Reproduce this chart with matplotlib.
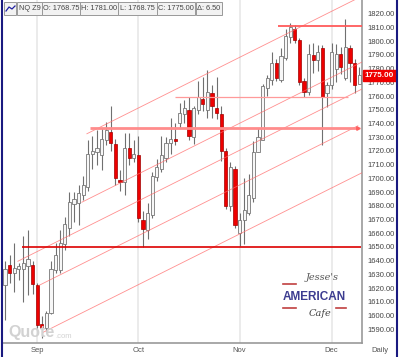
import matplotlib
matplotlib.use('Agg')
import matplotlib.pyplot as plt
from matplotlib.lines import Line2D

plt.rcParams['font.family'] = ['Liberation Sans', 'DejaVu Sans']

# NQ Z9 daily candles, late Aug -> early Dec 2009
opens = [1622, 1637, 1631, 1634, 1634, 1636, 1637, 1622, 1594, 1591,
         1602, 1633, 1633, 1652, 1664, 1681, 1682, 1688, 1694, 1718,
         1719, 1717, 1728, 1734, 1725, 1699, 1697, 1722, 1715, 1717,
         1670, 1662, 1673, 1701, 1707, 1715, 1726, 1729, 1740, 1747,
         1750, 1730, 1750, 1758, 1750, 1762, 1751, 1747, 1720, 1680,
         1707, 1660, 1670, 1675, 1686, 1719, 1728, 1766, 1772, 1784,
         1772, 1788, 1803, 1809, 1801, 1771, 1763, 1790, 1786, 1795,
         1762, 1768, 1780, 1791, 1773, 1795, 1784, 1768.75]
highs = [1640, 1644, 1653, 1638, 1658, 1662, 1640, 1624, 1600, 1603,
         1640, 1653, 1662, 1672, 1690, 1690, 1695, 1702, 1728, 1731,
         1735, 1737, 1741, 1753, 1729, 1706, 1733, 1733, 1728, 1731,
         1676, 1682, 1705, 1714, 1731, 1730, 1744, 1740, 1755, 1757,
         1759, 1753, 1771, 1774, 1779, 1768, 1774, 1753, 1722, 1712,
         1709, 1675, 1700, 1703, 1727, 1737, 1769, 1775, 1792, 1787,
         1795, 1809, 1813, 1812, 1802, 1773, 1798, 1799, 1797, 1797,
         1770, 1799, 1798, 1796, 1816, 1797, 1787, 1781]
lows = [1597, 1624, 1617, 1626, 1610, 1615, 1616, 1591, 1584, 1588,
        1601, 1631, 1631, 1648, 1658, 1668, 1666, 1684, 1691, 1707,
        1710, 1706, 1724, 1720, 1695, 1691, 1688, 1710, 1712, 1668,
        1650, 1656, 1671, 1698, 1705, 1712, 1718, 1724, 1737, 1740,
        1728, 1725, 1747, 1749, 1744, 1744, 1743, 1713, 1678, 1676,
        1664, 1651, 1652, 1673, 1683, 1719, 1728, 1760, 1768, 1771,
        1770, 1786, 1799, 1799, 1768, 1759, 1761, 1777, 1778, 1724,
        1752, 1765, 1770, 1776, 1772, 1770, 1762, 1768.75]
closes = [1634, 1631, 1635, 1636, 1638, 1641, 1623, 1593, 1591, 1602,
          1634, 1644, 1653, 1667, 1683, 1685, 1689, 1695, 1718, 1720,
          1722, 1729, 1735, 1726, 1700, 1697, 1722, 1715, 1718, 1671,
          1663, 1675, 1702, 1708, 1717, 1726, 1729, 1727, 1748, 1751,
          1731, 1751, 1759, 1754, 1763, 1753, 1748, 1720, 1680, 1708,
          1666, 1670, 1677, 1688, 1719, 1730, 1767, 1773, 1784, 1773,
          1789, 1804, 1810, 1801, 1770, 1763, 1791, 1786, 1792, 1759,
          1768, 1792, 1791, 1781, 1796, 1784, 1768, 1775]

month_bars = [7, 29, 51, 71]
month_labels = ['Sep', 'Oct', 'Nov', 'Dec']
price_ticks = list(range(1590, 1830, 10))

# parallel trend channel: start bar, start price (common slope per bar)
chan_start_bar = [17.8, 16.7, 2.8, 7.4, 8.3]
chan_start_price = [1732.5, 1682.6, 1639.6, 1622.0, 1587.8]
chan_end_bar = [77.6, 77.6, 77.6, 76.7, 77.6]
chan_slope = 1.678

# horizontal levels
level_price = [1650, 1736.5, 1759, 1811]
level_start = [3.7, 18.5, 36.9, 59.4]
level_end = [77.4, 76.7, 74.6, 77.6]
level_color = ['#dd0000', '#ff8c8c', '#ff9a9a', '#ff5a5a']
level_width = [1.2, 2.0, 0.9, 1.3]

header = ['NQ Z9', 'O: 1768.75', 'H: 1781.00', 'L: 1768.75', 'C: 1775.00', '\u0394: 6.50']
header_x = [17, 42, 80, 118, 157, 196]
header_w = [25, 38, 38, 39, 38, 26]

W, H = 400, 357
fig = plt.figure(figsize=(W / 100, H / 100), dpi=100)
ax = fig.add_axes([3 / W, 1 - 343 / H, 359 / W, 343 / H])

# month grid
for b in month_bars:
    ax.axvline(b, color='#ebebeb', lw=1.4, zorder=0)

# candles
for i in range(len(opens)):
    o, h, l, c = opens[i], highs[i], lows[i], closes[i]
    ax.vlines(i, l, h, color='#707070', lw=0.8, zorder=2)
    bottom = min(o, c)
    height = max(abs(c - o), 0.6)
    if c >= o:
        ax.bar(i, height, bottom=bottom, width=0.72, color='#f7f7f7',
               edgecolor='#777777', linewidth=0.6, zorder=3)
    else:
        ax.bar(i, height, bottom=bottom, width=0.72, color='#ee0000',
               edgecolor='#a00000', linewidth=0.5, zorder=3)

# channel lines
for sb, sp, eb in zip(chan_start_bar, chan_start_price, chan_end_bar):
    ax.plot([sb, eb], [sp, sp + chan_slope * (eb - sb)], color='#ff6a6a',
            lw=0.6, alpha=0.75, zorder=4)

# horizontal levels
for p, s, e, col, lw in zip(level_price, level_start, level_end, level_color, level_width):
    ax.plot([s, e], [p, p], color=col, lw=lw, zorder=4, solid_capstyle='butt')
ax.plot([level_end[1]], [level_price[1]], marker='>', ms=2.5, color='#ff6060', zorder=4)

ax.set_xlim(-0.43, 77.6)
ax.set_ylim(1580, 1830)

ax.yaxis.tick_right()
ax.set_yticks(price_ticks)
ax.set_yticklabels([f'{p:.2f}' for p in price_ticks])
ax.set_xticks(month_bars)
ax.set_xticklabels(month_labels)
ax.tick_params(axis='y', length=0, pad=4, labelsize=5.5, labelcolor='#444444')
ax.tick_params(axis='x', length=0, pad=3, labelsize=5.5, labelcolor='#555555')

for side in ['top', 'left']:
    ax.spines[side].set_visible(False)
for side in ['right', 'bottom']:
    ax.spines[side].set_color('#999999')
    ax.spines[side].set_linewidth(1.2)

# last price tag
ax.annotate(f'{closes[-1]:.2f}', xy=(1.0, closes[-1]), xycoords=('axes fraction', 'data'),
            xytext=(2, 0), textcoords='offset points', va='center', ha='left',
            fontsize=5.8, fontweight='bold', color='white',
            bbox=dict(boxstyle='square,pad=0.2', fc='#ee0000', ec='#ee0000'))

fig.text(380 / W, 1 - 351 / H, 'Daily', fontsize=5.5, color='#555555', ha='center', va='center')

# header strip
fig.patches.append(plt.Rectangle((4 / W, 1 - 15 / H), 12 / W, 13 / H, transform=fig.transFigure,
                                 fc='#f2f2f2', ec='#999999', lw=0.7))
fig.lines.append(Line2D([6 / W, 9 / W, 12 / W, 15 / W], [1 - 11 / H, 1 - 7 / H, 1 - 9 / H, 1 - 6 / H],
                        transform=fig.transFigure, color='#2020a0', lw=0.9))
for txt, x0, w in zip(header, header_x, header_w):
    fig.patches.append(plt.Rectangle((x0 / W, 1 - 15 / H), w / W, 13 / H, transform=fig.transFigure,
                                     fc='#f2f2f2', ec='#999999', lw=0.7))
    fig.text((x0 + w / 2) / W, 1 - 8.8 / H, txt, fontsize=5.3, color='#444444',
             ha='center', va='center')

# watermarks
fig.text(8 / W, 1 - 333 / H, 'Quote', fontsize=11.5, fontweight='bold', color='#d2d2d2',
         ha='left', va='center')
fig.text(55 / W, 1 - 336 / H, '.com', fontsize=5.5, color='#d2d2d2', ha='left', va='center')
fig.text(322 / W, 1 - 278 / H, "Jesse's", fontsize=7, style='italic', family='DejaVu Serif',
         color='#555555', ha='center', va='center')
fig.text(314 / W, 1 - 297 / H, 'AMERICAN', fontsize=8.5, fontweight='bold', color='#3c3c90',
         ha='center', va='center', fontstretch='condensed')
fig.text(320 / W, 1 - 313 / H, 'Cafe', fontsize=7, style='italic', family='DejaVu Serif',
         color='#444444', ha='center', va='center')
for (x0, x1, y) in [(283, 296, 284), (283, 296, 308), (336, 346, 308)]:
    fig.lines.append(Line2D([x0 / W, x1 / W], [1 - y / H, 1 - y / H], transform=fig.transFigure,
                            color='#c04040', lw=1.2))

# outer navy frame
for x in [1.5, 397]:
    fig.lines.append(Line2D([x / W, x / W], [0, 1], transform=fig.transFigure, color='#1a1a80', lw=1.5))

fig.savefig('out.png', dpi=100)
